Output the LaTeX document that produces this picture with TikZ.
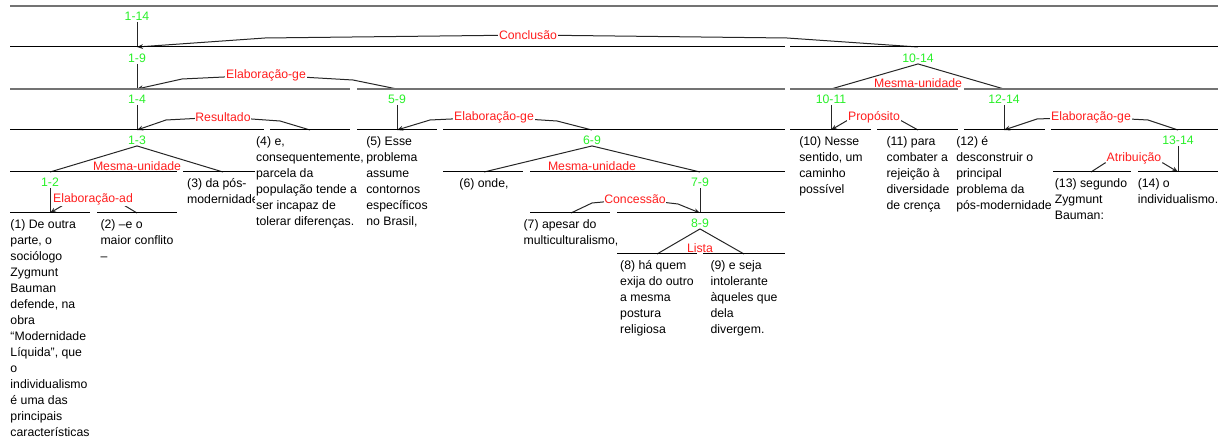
\documentclass[tikz,border=0pt]{standalone}
\usepackage{fontspec}
\setmainfont{Liberation Sans}
\usetikzlibrary{arrows.meta}
\definecolor{spangreen}{RGB}{40,240,40}
\definecolor{relred}{RGB}{255,30,30}

\begin{document}
\begin{tikzpicture}[x=0.75pt, y=-0.75pt, >={Stealth[length=4.5pt,width=3.6pt]},
    every node/.style={font=\fontsize{9.2}{12}\selectfont},
    seg/.style={black, line width=0.75pt},
    seggray/.style={black!55, line width=1.3pt},
    tie/.style={black!85, line width=0.75pt},
    spanlbl/.style={text=spangreen, inner sep=1pt},
    rel/.style={text=relred, fill=white, inner sep=0.6pt},
    edu/.style={anchor=north, align=left, fill=white, inner sep=1pt}]
    \useasboundingbox (0,0) rectangle (1228,441);

    % Topo de cada span
    \coordinate (t19) at (137,47);
    \coordinate (t1014) at (918,47);
    \coordinate (t14) at (137,89);
    \coordinate (t59) at (397,89);
    \coordinate (t1011) at (831,89);
    \coordinate (t1214) at (1004,89);
    \coordinate (t13) at (137,130);
    \coordinate (e4) at (310,130);
    \coordinate (e5) at (397,130);
    \coordinate (t69) at (592,130);
    \coordinate (e10) at (831,130);
    \coordinate (e11) at (918,130);
    \coordinate (e12) at (1004,130);
    \coordinate (t1314) at (1178,130);
    \coordinate (t12) at (50,172);
    \coordinate (e3) at (223,172);
    \coordinate (e6) at (484,172);
    \coordinate (t79) at (700,172);
    \coordinate (e13) at (1091,172);
    \coordinate (e14) at (1178,172);
    \coordinate (e1) at (50,213);
    \coordinate (e2) at (137,213);
    \coordinate (e7) at (571,213);
    \coordinate (t89) at (700,213);
    \coordinate (e8) at (657,254);
    \coordinate (e9) at (744,254);

    % Rótulos dos spans
    \node[spanlbl] (s114) at (137,16) {1-14};
    \node[spanlbl] (s19) at (137,58) {1-9};
    \node[spanlbl] (s1014) at (918,58) {10-14};
    \node[spanlbl] (s14) at (137,99) {1-4};
    \node[spanlbl] (s59) at (397,99) {5-9};
    \node[spanlbl] (s1011) at (831,99) {10-11};
    \node[spanlbl] (s1214) at (1004,99) {12-14};
    \node[spanlbl] (s13) at (137,140) {1-3};
    \node[spanlbl] (s69) at (592,140) {6-9};
    \node[spanlbl] (s1314) at (1178,140) {13-14};
    \node[spanlbl] (s12) at (50,182) {1-2};
    \node[spanlbl] (s79) at (700,182) {7-9};
    \node[spanlbl] (s89) at (700,223) {8-9};

    % Ligações ao núcleo
    \draw[tie] (s114) -- (t19);
    \draw[tie] (s19) -- (t14);
    \draw[tie] (s14) -- (t13);
    \draw[tie] (s59) -- (e5);
    \draw[tie] (s1011) -- (e10);
    \draw[tie] (s1214) -- (e12);
    \draw[tie] (s1314) -- (e14);
    \draw[tie] (s12) -- (e1);
    \draw[tie] (s79) -- (t89);

    % Relações multinucleares
    \draw[tie] (t1011) -- (s1014.south) -- (t1214);
    \draw[tie] (t12) -- (s13.south) -- (e3);
    \draw[tie] (e6) -- (s69.south) -- (t79);
    \draw[tie] (e8) -- (s89.south) -- (e9);
    \node[rel] (mu1014) at (918,83) {Mesma-unidade};
    \node[rel] (mu13) at (137,166) {Mesma-unidade};
    \node[rel] (mu69) at (592,166) {Mesma-unidade};
    \node[rel] (lista) at (700,248) {Lista};

    % Relações núcleo-satélite
    \draw[->, tie] (t1014) -- (787,38) -- (528,35) node[rel] (conc) {Conclusão} -- (265,38) -- (t19);
    \draw[->, tie] (t59) -- (353,80) -- (266,75) node[rel] (elab19) {Elaboração-ge} -- (182,79) -- (t14);
    \draw[->, tie] (e4) -- (280,121) -- (223,117) node[rel] (result) {Resultado} -- (166,120) -- (t13);
    \draw[->, tie] (t69) -- (557,121) -- (494,117) node[rel] (elab59) {Elaboração-ge} -- (430,120) -- (e5);
    \draw[->, tie] (e11) -- (900,120) -- (874,117) node[rel] (prop) {Propósito} -- (848,120) -- (e10);
    \draw[->, tie] (t1314) -- (1148,120) -- (1091,117) node[rel] (elab1214) {Elaboração-ge} -- (1037,119) -- (e12);
    \draw[->, tie] (e13) -- (1105,163) -- (1134,158) node[rel] (atrib) {Atribuição} -- (1163,163) -- (e14);
    \draw[->, tie] (e2) -- (122,204) -- (93,199) node[rel] (elabad) {Elaboração-ad} -- (65,204) -- (e1);
    \draw[->, tie] (e7) -- (592,203) -- (635,199) node[rel] (conces) {Concessão} -- (678,204) -- (t89);

    % Linhas horizontais dos spans
    \draw[seggray] (10,6) -- (1218,6);
    \draw[seg] (10,47) -- (785,47) (790,47) -- (1218,47);
    \draw[seggray] (10,89) -- (350,89) (357,89) -- (785,89) (790,89) -- (958,89) (964,89) -- (1218,89);
    \draw[seg] (10,130) -- (264,130) (270,130) -- (350,130) (357,130) -- (437,130) (443,130) -- (785,130)
        (790,130) -- (871,130) (877,130) -- (958,130) (964,130) -- (1045,130) (1051,130) -- (1218,130);
    \draw[seg] (10,172) -- (177,172) (183,172) -- (264,172) (443,172) -- (523,172) (530,172) -- (785,172)
        (1051,172) -- (1131,172) (1138,172) -- (1218,172);
    \draw[seg] (10,213) -- (90,213) (97,213) -- (177,213) (530,213) -- (610,213) (617,213) -- (785,213);
    \draw[seg] (617,254) -- (697,254) (703,254) -- (785,254);

    % Segmentos de texto
    \node[edu] (u1) at (50,218) {(1) De outra\\parte, o\\sociólogo\\Zygmunt\\Bauman\\defende, na\\obra\\“Modernidade\\Líquida”, que\\o\\individualismo\\é uma das\\principais\\características};
    \node[edu] (u2) at (137,218) {(2) –e o\\maior conflito\\–};
    \node[edu] (u3) at (223,177) {(3) da pós-\\modernidade};
    \node[edu] (u4) at (310,135) {(4) e,\\consequentemente,\\parcela da\\população tende a\\ser incapaz de\\tolerar diferenças.};
    \node[edu] (u5) at (397,135) {(5) Esse\\problema\\assume\\contornos\\específicos\\no Brasil,};
    \node[edu] (u6) at (484,177) {(6) onde,};
    \node[edu] (u7) at (571,218) {(7) apesar do\\multiculturalismo,};
    \node[edu] (u8) at (657,259) {(8) há quem\\exija do outro\\a mesma\\postura\\religiosa};
    \node[edu] (u9) at (744,259) {(9) e seja\\intolerante\\àqueles que\\dela\\divergem.};
    \node[edu] (u10) at (831,135) {(10) Nesse\\sentido, um\\caminho\\possível};
    \node[edu] (u11) at (918,135) {(11) para\\combater a\\rejeição à\\diversidade\\de crença};
    \node[edu] (u12) at (1004,135) {(12) é\\desconstruir o\\principal\\problema da\\pós-modernidade};
    \node[edu] (u13) at (1091,177) {(13) segundo\\Zygmunt\\Bauman:};
    \node[edu] (u14) at (1178,177) {(14) o\\individualismo.};
\end{tikzpicture}
\end{document}
